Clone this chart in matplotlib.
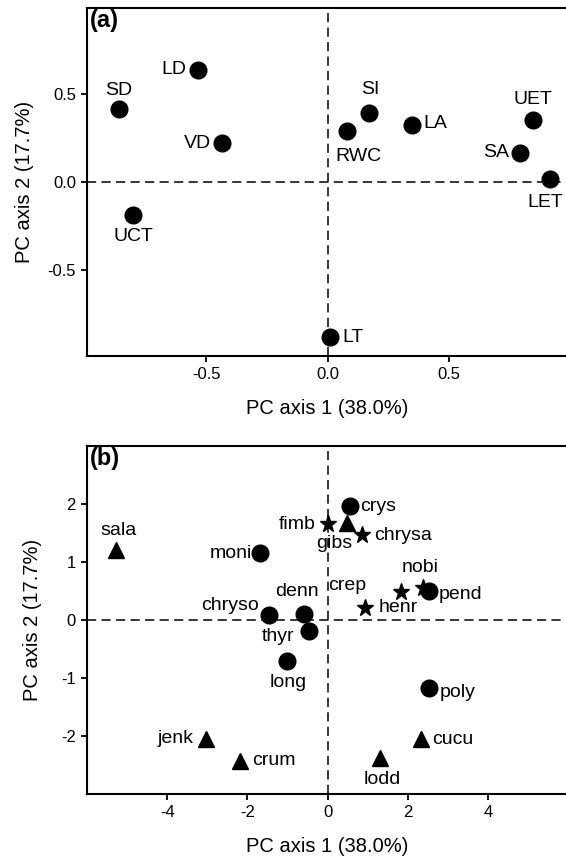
import matplotlib
matplotlib.use("Agg")
import matplotlib.pyplot as plt

plt.rcParams['font.family'] = ['Liberation Sans', 'DejaVu Sans']
plt.rcParams['axes.unicode_minus'] = False

# ---- Panel (a): trait loadings ----
a_labels = ["SD", "LD", "VD", "UCT", "SI", "RWC", "LA", "UET", "SA", "LET", "LT"]
a_x = [-0.859, -0.533, -0.436, -0.800, 0.172, 0.079, 0.347, 0.846, 0.794, 0.914, 0.010]
a_y = [0.414, 0.638, 0.220, -0.188, 0.395, 0.290, 0.326, 0.353, 0.167, 0.017, -0.884]

# ---- Panel (b): species scores ----
b_labels = ["sala", "moni", "chryso", "denn", "thyr", "long", "jenk", "crum",
            "crys", "fimb", "gibs", "chrysa", "crep", "nobi", "pend", "henr",
            "poly", "cucu", "lodd"]
b_x = [-5.28, -1.68, -1.46, -0.58, -0.46, -1.01, -3.02, -2.18,
       0.57, 0.00, 0.48, 0.87, 1.83, 2.38, 2.54, 0.94,
       2.53, 2.34, 1.31]
b_y = [1.20, 1.15, 0.09, 0.11, -0.18, -0.70, -2.04, -2.42,
       1.96, 1.65, 1.67, 1.46, 0.49, 0.55, 0.51, 0.21,
       -1.17, -2.05, -2.37]
b_group = ["tri", "circ", "circ", "circ", "circ", "circ", "tri", "tri",
           "circ", "star", "tri", "star", "star", "star", "circ", "star",
           "circ", "tri", "tri"]

# label offsets (pixels: dx right, dy up) and alignment
a_off = {"SD": (0, 19, 'center'), "LD": (-12, 0, 'right'), "VD": (-11, 0, 'right'),
         "UCT": (0, -21, 'center'), "SI": (1, 23, 'center'), "RWC": (12, -25, 'center'),
         "LA": (12, 1, 'left'), "UET": (0, 20, 'center'), "SA": (-11, 0, 'right'),
         "LET": (-4, -23, 'center'), "LT": (12, 0, 'left')}
b_off = {"sala": (3, 20, 'center'), "moni": (-8, 0, 'right'), "chryso": (-10, 9, 'right'),
         "denn": (-7, 22, 'center'), "thyr": (-15, -6, 'right'), "long": (1, -22, 'center'),
         "jenk": (-13, 0, 'right'), "crum": (12, 0, 'left'), "crys": (10, 0, 'left'),
         "fimb": (-12, 0, 'right'), "gibs": (-13, -20, 'center'), "chrysa": (12, 0, 'left'),
         "crep": (-54, 6, 'center'), "nobi": (-3, 21, 'center'), "pend": (9, -4, 'left'),
         "henr": (13, 0, 'left'), "poly": (11, -4, 'left'), "cucu": (11, 0, 'left'),
         "lodd": (2, -22, 'center')}

PX = 0.72  # points per pixel at 100 dpi
LABEL_FS = 14
TICK_FS = 12
AXLAB_FS = 14.5

fig = plt.figure(figsize=(5.66, 8.59), dpi=100)
W, H = 566.0, 859.0
ax1 = fig.add_axes([87 / W, 1 - 356 / H, 481 / W, 348 / H])
ax2 = fig.add_axes([87 / W, 1 - 794.3 / H, 481 / W, 348.3 / H])


def style(ax):
    for s in ax.spines.values():
        s.set_linewidth(1.5)
    ax.tick_params(direction='out', length=4, width=1.3, labelsize=TICK_FS,
                   top=False, right=False, pad=4)
    ax.axhline(0, color='black', lw=1.1, dashes=(6, 3.5), zorder=1)
    ax.axvline(0, color='black', lw=1.1, dashes=(6, 3.5), zorder=1)


style(ax1)
ax1.plot(a_x, a_y, 'o', color='black', ms=12, zorder=3)
for lab, x, y in zip(a_labels, a_x, a_y):
    dx, dy, ha = a_off[lab]
    ax1.annotate(lab, (x, y), xytext=(dx * PX, dy * PX), textcoords='offset points',
                 ha=ha, va='center', fontsize=LABEL_FS)
ax1.set_xlim(-0.99, 0.99)
ax1.set_ylim(-0.99, 0.99)
ax1.set_xticks([-0.5, 0.0, 0.5])
ax1.set_xticklabels(["-0.5", "0.0", "0.5"])
ax1.set_yticks([-0.5, 0.0, 0.5])
ax1.set_yticklabels(["-0.5", "0.0", "0.5"])
ax1.set_xlabel("PC axis 1 (38.0%)", fontsize=AXLAB_FS, labelpad=12)
ax1.set_ylabel("PC axis 2 (17.7%)", fontsize=AXLAB_FS, labelpad=10)
ax1.text(0.005, 0.997, "(a)", transform=ax1.transAxes, ha='left', va='top',
         fontsize=17, fontweight='bold')

style(ax2)
mk = {"circ": ('o', 12), "tri": ('^', 11.5), "star": ('*', 12.5)}
for g in ["circ", "tri", "star"]:
    xs = [x for x, gg in zip(b_x, b_group) if gg == g]
    ys = [y for y, gg in zip(b_y, b_group) if gg == g]
    m, s = mk[g]
    ax2.plot(xs, ys, m, color='black', ms=s, zorder=3, lw=0)
for lab, x, y in zip(b_labels, b_x, b_y):
    dx, dy, ha = b_off[lab]
    ax2.annotate(lab, (x, y), xytext=(dx * PX, dy * PX), textcoords='offset points',
                 ha=ha, va='center', fontsize=LABEL_FS)
ax2.set_xlim(-6, 6)
ax2.set_ylim(-3, 3)
ax2.set_xticks([-4, -2, 0, 2, 4])
ax2.set_yticks([-2, -1, 0, 1, 2])
ax2.set_xlabel("PC axis 1 (38.0%)", fontsize=AXLAB_FS, labelpad=12)
ax2.set_ylabel("PC axis 2 (17.7%)", fontsize=AXLAB_FS, labelpad=14)
ax2.text(0.005, 0.997, "(b)", transform=ax2.transAxes, ha='left', va='top',
         fontsize=17, fontweight='bold')

fig.savefig("out.png", dpi=100)
